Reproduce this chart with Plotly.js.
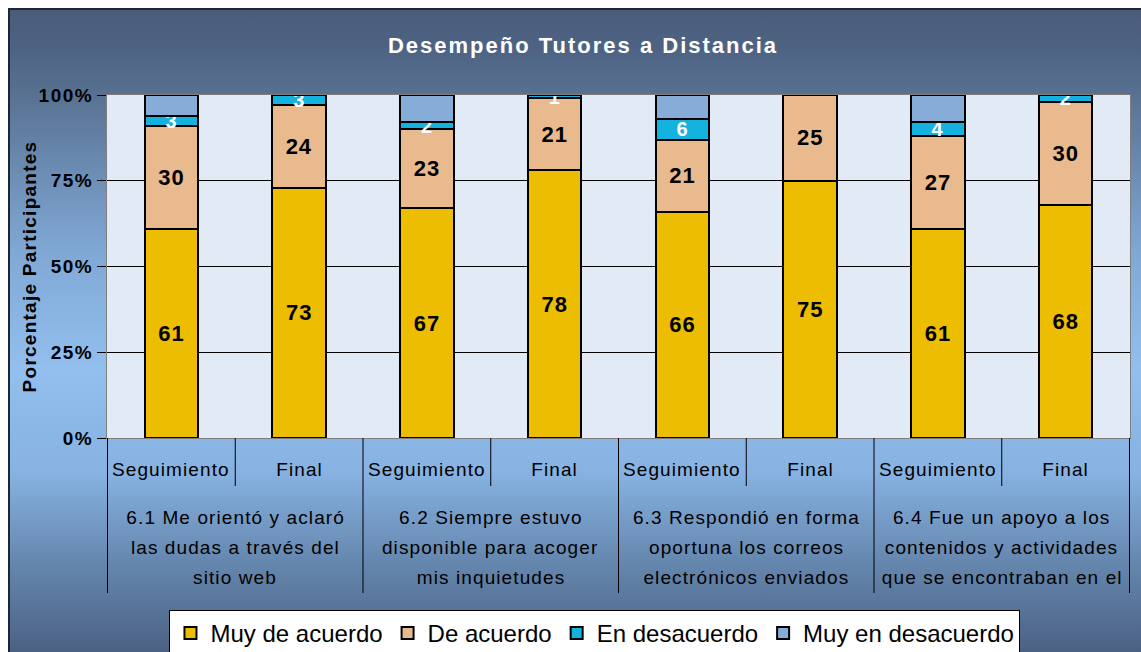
<!DOCTYPE html>
<html>
<head>
<meta charset="utf-8">
<script src="https://cdn.plot.ly/plotly-3.0.1.min.js"></script>
<style>
  html, body { margin: 0; padding: 0; background: #ffffff; width: 1141px; height: 652px; overflow: hidden; }
  #frame {
    position: absolute; left: 8px; top: 8px; width: 1131px; height: 642px;
    border: 2px solid #1c2733;
    background: linear-gradient(to bottom, #4a5c79 0%, #4e6383 6%, #587191 13%, #7fa7d4 37%, #92bfee 56%, #8cb8e8 64%, #87b2e2 72%, #6587ae 86%, #4b6184 100%);
  }
  #chart { position: absolute; left: 0; top: 0; width: 1141px; height: 652px; }
  #chart text { letter-spacing: 1.1px; }
  #chart .gtitle { letter-spacing: 2px; }
  #chart .legendtext { letter-spacing: 0px; }
  #chart .g-ytitle text { letter-spacing: 1.25px; }
  #chart .ytick text { letter-spacing: 1.5px; }
  #chart .bartext { letter-spacing: 0.8px; }
</style>
</head>
<body>
<div id="frame"></div>
<div id="chart"></div>
<script>
// ---- data ----
const questions = [
  ["6.1 Me orientó y aclaró", "las dudas a través del", "sitio web"],
  ["6.2 Siempre estuvo", "disponible para acoger", "mis inquietudes"],
  ["6.3 Respondió en forma", "oportuna los correos", "electrónicos enviados"],
  ["6.4 Fue un apoyo a los", "contenidos y actividades", "que se encontraban en el"]
];
const stages = ["Seguimiento", "Final"];
const muyDeAcuerdo    = [61, 73, 67, 78, 66, 75, 61, 68];
const deAcuerdo       = [30, 24, 23, 21, 21, 25, 27, 30];
const enDesacuerdo    = [3, 3, 2, 1, 6, 0, 4, 2];
const muyEnDesacuerdo = [6, 0, 8, 0, 7, 0, 8, 0];
const seriesNames = ["Muy de acuerdo", "De acuerdo", "En desacuerdo", "Muy en desacuerdo"];
const yTicks = [0, 25, 50, 75, 100];

// ---- build ----
const FONT = "Liberation Sans, Arial, sans-serif";
const xcat = [];
questions.forEach((q, qi) => stages.forEach(s => xcat.push("6." + (qi + 1) + " " + s)));
const lbl = arr => arr.map(v => v ? String(v) : "");

function bar(name, vals, color, textColor, showText, size) {
  return {
    type: "bar", name: name, x: xcat, y: vals,
    width: 0.42,
    marker: { color: color, line: { color: "#000000", width: 2 } },
    text: showText ? lbl(vals) : undefined,
    textposition: showText ? "inside" : "none",
    insidetextanchor: "middle",
    constraintext: "none",
    textangle: 0,
    textfont: { family: FONT, size: size, color: textColor, weight: "bold" },
    hoverinfo: "skip"
  };
}

const data = [
  bar(seriesNames[0], muyDeAcuerdo, "#ecbd00", "#000000", true, 22),
  bar(seriesNames[1], deAcuerdo, "#e8ba8e", "#000000", true, 22),
  bar(seriesNames[2], enDesacuerdo, "#14b3df", "#ffffff", true, 20),
  bar(seriesNames[3], muyEnDesacuerdo, "#86acd8", "#ffffff", false, 20)
];

// axis geometry (paper units below the plot area; plot height 343px)
const PH = 343;
const shapes = [], annotations = [];
for (let g = 0; g <= questions.length; g++) {
  shapes.push({ type: "line", xref: "x", yref: "paper", x0: g * 2 - 0.5, x1: g * 2 - 0.5,
    y0: 0, y1: -155 / PH, line: { color: "#000000", width: 1 } });
}
for (let g = 0; g < questions.length; g++) {
  shapes.push({ type: "line", xref: "x", yref: "paper", x0: g * 2 + 0.5, x1: g * 2 + 0.5,
    y0: 0, y1: -48 / PH, line: { color: "#000000", width: 1 } });
}
xcat.forEach((c, i) => {
  annotations.push({ xref: "x", yref: "paper", x: i, y: -31 / PH, yanchor: "middle", xanchor: "center",
    text: stages[i % 2], showarrow: false, font: { family: FONT, size: 19, color: "#000000" } });
});
questions.forEach((lines, g) => {
  lines.forEach((t, li) => {
    annotations.push({ xref: "x", yref: "paper", x: g * 2 + 0.5, y: -(79 + li * 30) / PH,
      yanchor: "middle", xanchor: "center", text: t, showarrow: false,
      font: { family: FONT, size: 19, color: "#000000" } });
  });
});

const layout = {
  width: 1141, height: 652,
  paper_bgcolor: "rgba(0,0,0,0)",
  plot_bgcolor: "#e2ebf5",
  margin: { l: 107, r: 11, t: 95, b: 214, autoexpand: false },
  barmode: "stack",
  showlegend: true,
  title: {
    text: "<b>Desempeño Tutores a Distancia</b>",
    font: { family: FONT, size: 22, color: "#ffffff" },
    xref: "container", x: 0.511, xanchor: "center",
    yref: "container", y: 0.931, yanchor: "middle"
  },
  font: { family: FONT, color: "#000000" },
  xaxis: {
    type: "category",
    showticklabels: false, ticks: "",
    showline: true, linecolor: "#7f7f7f", linewidth: 1, mirror: true,
    showgrid: false, automargin: false, fixedrange: true
  },
  yaxis: {
    range: [0, 100],
    tickvals: yTicks,
    ticktext: yTicks.map(v => "<b>" + v + "%</b>"),
    tickfont: { family: FONT, size: 19, color: "#000000" },
    ticks: "outside", ticklen: 9, tickcolor: "#000000",
    showgrid: true, gridcolor: "#000000", gridwidth: 1,
    showline: true, linecolor: "#7f7f7f", linewidth: 1, mirror: true,
    zeroline: false, automargin: false,
    title: { text: "<b>Porcentaje Participantes</b>", font: { family: FONT, size: 19, color: "#000000" }, standoff: 2 }
  },
  legend: {
    orientation: "h",
    x: 0.477, xanchor: "center",
    y: -172 / PH, yanchor: "top",
    bgcolor: "#ffffff", bordercolor: "#000000", borderwidth: 1,
    font: { family: FONT, size: 24, color: "#000000" },
    traceorder: "normal",
    itemwidth: 30
  },
  shapes: shapes,
  annotations: annotations
};

Plotly.newPlot("chart", data, layout, { displayModeBar: false, staticPlot: true });
</script>
</body>
</html>
